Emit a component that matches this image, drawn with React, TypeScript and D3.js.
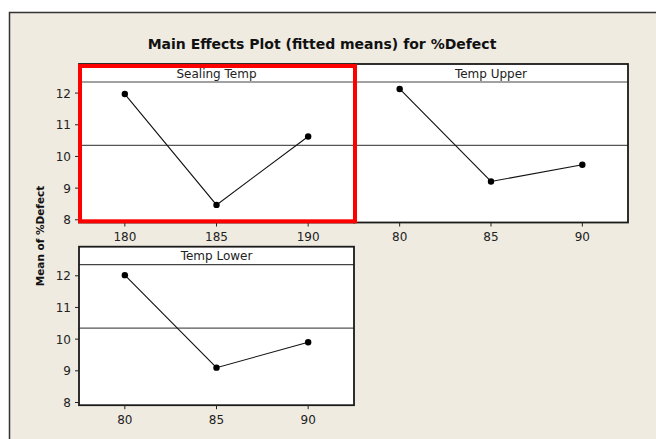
import React from "react";
import * as d3 from "d3";

const titleText = "Main Effects Plot (fitted means) for %Defect";
const yLabel = "Mean of %Defect";
const factors = ["Sealing Temp", "Temp Upper", "Temp Lower"];
const sealingLevels = [180, 185, 190];
const sealingMeans = [11.97, 8.47, 10.63];
const upperLevels = [80, 85, 90];
const upperMeans = [12.13, 9.21, 9.74];
const lowerLevels = [80, 85, 90];
const lowerMeans = [12.02, 9.1, 9.9];
const overallMean = 10.35;
const yTicks = [8, 9, 10, 11, 12];

const panelData = [
  { name: factors[0], levels: sealingLevels, means: sealingMeans },
  { name: factors[1], levels: upperLevels, means: upperMeans },
  { name: factors[2], levels: lowerLevels, means: lowerMeans },
];

const layout = [
  { x0: 79, x1: 354, top: 64, yAxis: true },
  { x0: 354, x1: 628, top: 64, yAxis: false },
  { x0: 79, x1: 354, top: 246.7, yAxis: true },
];

const STRIP_H = 18;
const PLOT_H = 140.5;
const FONT = "'DejaVu Sans', Verdana, sans-serif";

export default function App() {
  return (
    <svg
      width={656}
      height={439}
      style={{ position: "absolute", left: 0, top: 0 }}
      fontFamily={FONT}
    >
      <rect x={0} y={0} width={656} height={439} fill="#ffffff" />
      <rect x={9.5} y={12.5} width={700} height={500} fill="#EFEBE1" stroke="#333" strokeWidth={1.5} />
      <text x={322} y={49} textAnchor="middle" fontSize={14} fontWeight="bold" fill="#111">
        {titleText}
      </text>
      <text
        transform={`translate(44,236) rotate(-90)`}
        textAnchor="middle"
        fontSize={10.5}
        fontWeight="bold"
        fill="#111"
      >
        {yLabel}
      </text>
      {panelData.map((p, i) => {
        const L = layout[i];
        const plotTop = L.top + STRIP_H;
        const plotBottom = plotTop + PLOT_H;
        const x = d3
          .scaleLinear()
          .domain([p.levels[0] - 2.5, p.levels[p.levels.length - 1] + 2.5])
          .range([L.x0, L.x1]);
        const y = d3.scaleLinear().domain([7.915, 12.35]).range([plotBottom, plotTop]);
        const line = d3
          .line<number>()
          .x((_, j) => x(p.levels[j]))
          .y((d) => y(d));
        return (
          <g key={p.name}>
            <rect x={L.x0} y={L.top} width={L.x1 - L.x0} height={STRIP_H + PLOT_H} fill="#fff" />
            <line x1={L.x0} x2={L.x1} y1={y(overallMean)} y2={y(overallMean)} stroke="#555" strokeWidth={1.2} />
            <path d={line(p.means) || ""} fill="none" stroke="#111" strokeWidth={1.1} />
            {p.means.map((m, j) => (
              <circle key={j} cx={x(p.levels[j])} cy={y(m)} r={3.2} fill="#000" />
            ))}
            <line x1={L.x0} x2={L.x1} y1={plotTop} y2={plotTop} stroke="#444" strokeWidth={1.2} />
            <text x={(L.x0 + L.x1) / 2} y={L.top + 13.5} textAnchor="middle" fontSize={12} fill="#222">
              {p.name}
            </text>
            <rect
              x={L.x0}
              y={L.top}
              width={L.x1 - L.x0}
              height={STRIP_H + PLOT_H}
              fill="none"
              stroke="#1a1a1a"
              strokeWidth={1.8}
            />
            {p.levels.map((lv) => (
              <g key={lv}>
                <line x1={x(lv)} x2={x(lv)} y1={plotBottom} y2={plotBottom + 4} stroke="#222" strokeWidth={1} />
                <text x={x(lv)} y={plotBottom + 18.5} textAnchor="middle" fontSize={12} fill="#222">
                  {lv}
                </text>
              </g>
            ))}
            {L.yAxis &&
              yTicks.map((t) => (
                <g key={t}>
                  <line x1={L.x0 - 4} x2={L.x0} y1={y(t)} y2={y(t)} stroke="#222" strokeWidth={1} />
                  <text x={L.x0 - 8} y={y(t) + 4.5} textAnchor="end" fontSize={12} fill="#222">
                    {t}
                  </text>
                </g>
              ))}
          </g>
        );
      })}
      <rect x={80} y={66} width={275} height={155.3} fill="none" stroke="#ff0000" strokeWidth={4} />
    </svg>
  );
}
